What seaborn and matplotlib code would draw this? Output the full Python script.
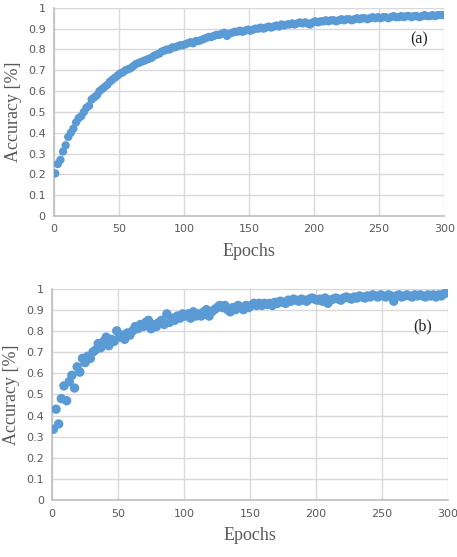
import numpy as np
import pandas as pd
import matplotlib
matplotlib.use("Agg")
import matplotlib.pyplot as plt
import seaborn as sns

# Epochs sampled every 2 epochs (1, 3, ..., 299)
epochs = list(range(1, 300, 2))

# Accuracy
acc_a = [0.205, 0.25, 0.27, 0.31, 0.34, 0.38, 0.40, 0.42, 0.45, 0.47,
         0.48, 0.50, 0.52, 0.53, 0.56, 0.57, 0.58, 0.60, 0.61, 0.62,
         0.63, 0.645, 0.655, 0.665, 0.675, 0.685, 0.69, 0.70, 0.705, 0.71,
         0.72, 0.73, 0.735, 0.74, 0.745, 0.75, 0.755, 0.76, 0.77, 0.775,
         0.78, 0.79, 0.795, 0.80, 0.80, 0.81, 0.81, 0.815, 0.82, 0.82,
         0.825, 0.83, 0.835, 0.83, 0.84, 0.84, 0.845, 0.85, 0.855, 0.86,
         0.86, 0.865, 0.87, 0.87, 0.875, 0.88, 0.865, 0.875, 0.88, 0.885,
         0.885, 0.89, 0.885, 0.89, 0.895, 0.89, 0.895, 0.90, 0.90, 0.905,
         0.90, 0.905, 0.91, 0.905, 0.91, 0.915, 0.91, 0.92, 0.915, 0.92,
         0.92, 0.925, 0.92, 0.925, 0.93, 0.925, 0.93, 0.925, 0.92, 0.93,
         0.935, 0.93, 0.935, 0.935, 0.94, 0.935, 0.94, 0.94, 0.935, 0.94,
         0.945, 0.94, 0.945, 0.945, 0.94, 0.945, 0.95, 0.945, 0.95, 0.95,
         0.945, 0.95, 0.955, 0.95, 0.955, 0.95, 0.955, 0.955, 0.95, 0.955,
         0.96, 0.955, 0.955, 0.96, 0.955, 0.96, 0.96, 0.955, 0.96, 0.96,
         0.955, 0.96, 0.965, 0.96, 0.96, 0.965, 0.96, 0.965, 0.965, 0.965]

# Accuracy
acc_b = [0.335, 0.43, 0.36, 0.48, 0.54, 0.47, 0.56, 0.59, 0.53, 0.63,
         0.605, 0.67, 0.65, 0.68, 0.67, 0.70, 0.71, 0.74, 0.72, 0.75,
         0.77, 0.73, 0.76, 0.75, 0.80, 0.77, 0.78, 0.76, 0.79, 0.78,
         0.80, 0.82, 0.81, 0.83, 0.82, 0.84, 0.85, 0.81, 0.83, 0.82,
         0.84, 0.85, 0.83, 0.88, 0.84, 0.86, 0.85, 0.87, 0.86, 0.88,
         0.87, 0.88, 0.86, 0.89, 0.87, 0.88, 0.87, 0.89, 0.90, 0.87,
         0.89, 0.90, 0.91, 0.92, 0.91, 0.92, 0.90, 0.89, 0.91, 0.90,
         0.92, 0.91, 0.90, 0.92, 0.91, 0.92, 0.93, 0.92, 0.93, 0.92,
         0.93, 0.925, 0.93, 0.92, 0.935, 0.93, 0.94, 0.935, 0.93, 0.945,
         0.94, 0.95, 0.945, 0.94, 0.95, 0.945, 0.94, 0.95, 0.955, 0.95,
         0.945, 0.95, 0.94, 0.955, 0.93, 0.945, 0.95, 0.955, 0.95, 0.945,
         0.955, 0.96, 0.955, 0.95, 0.96, 0.955, 0.965, 0.96, 0.955, 0.965,
         0.96, 0.97, 0.965, 0.96, 0.97, 0.965, 0.96, 0.97, 0.965, 0.94,
         0.965, 0.97, 0.96, 0.965, 0.97, 0.965, 0.96, 0.97, 0.965, 0.97,
         0.965, 0.96, 0.97, 0.965, 0.97, 0.96, 0.97, 0.965, 0.975, 0.98]

panel_labels = ["(a)", "(b)"]
x_ticks = [0, 50, 100, 150, 200, 250, 300]
y_ticks = [0, 0.1, 0.2, 0.3, 0.4, 0.5, 0.6, 0.7, 0.8, 0.9, 1.0]

sns.set_style("whitegrid")
plt.rcParams['font.family'] = ['DejaVu Sans']

fig = plt.figure(figsize=(4.57, 5.57), dpi=100)
ax_a = fig.add_axes([0.118, 0.612, 0.854, 0.374])
ax_b = fig.add_axes([0.114, 0.102, 0.866, 0.380])

dot_color = "#5b9bd5"
grid_color = "#d9d9d9"
text_gray = "#595959"

for ax, acc, label, size, lab_y in [(ax_a, acc_a, panel_labels[0], 36, 0.85),
                                    (ax_b, acc_b, panel_labels[1], 46, 0.82)]:
    df = pd.DataFrame({"Epochs": epochs, "Accuracy": acc})
    sns.scatterplot(data=df, x="Epochs", y="Accuracy", ax=ax, color=dot_color,
                    s=size, edgecolor="none", linewidth=0, zorder=3)
    ax.set_xlim(0, 300)
    ax.set_ylim(0, 1)
    ax.set_xticks(x_ticks)
    ax.set_yticks(y_ticks)
    ax.set_yticklabels(["0" if v == 0 else ("1" if v == 1 else f"{v:.1f}") for v in y_ticks])
    ax.grid(True, color=grid_color, linewidth=1.0)
    ax.tick_params(axis="both", length=0, labelsize=8, labelcolor=text_gray, pad=6)
    for side in ["top", "right"]:
        ax.spines[side].set_visible(False)
    for side in ["left", "bottom"]:
        ax.spines[side].set_color("#bfbfbf")
        ax.spines[side].set_linewidth(1.2)
    ax.set_xlabel("Epochs", family="Liberation Serif", fontsize=13, color=text_gray, labelpad=6)
    ax.set_ylabel("Accuracy [%]", family="Liberation Serif", fontsize=13, color=text_gray, labelpad=4)
    ax.text(281, lab_y, label, family="Liberation Serif", fontsize=11.5, color="#222222",
            ha="center", va="center")

fig.savefig("out.png", dpi=100)
